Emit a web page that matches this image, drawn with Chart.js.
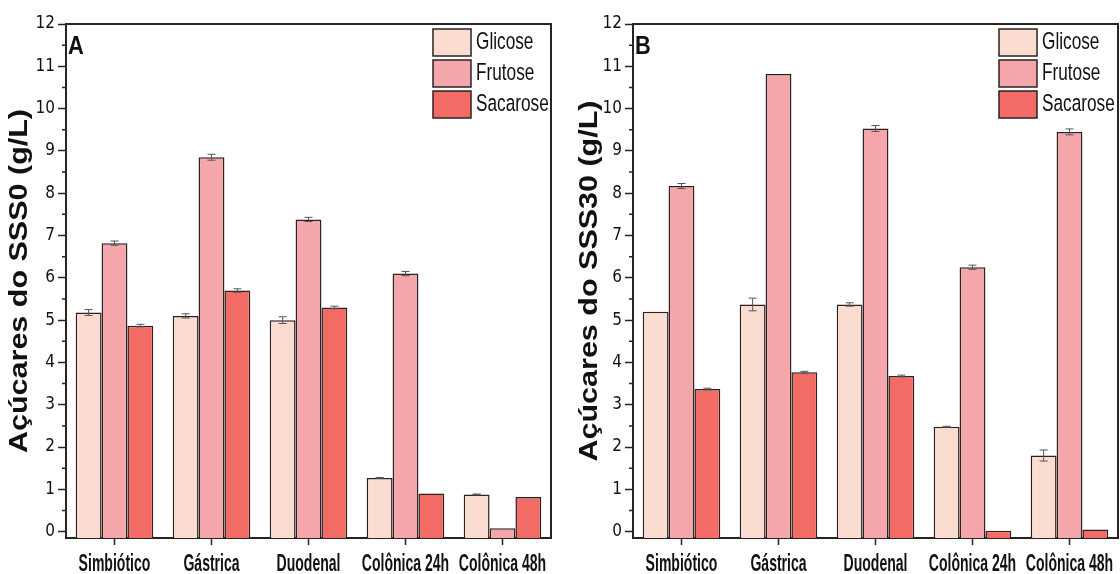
<!DOCTYPE html>
<html lang="pt-br">
<head>
<meta charset="UTF-8">
<title>Açúcares SSS0 / SSS30</title>
<script src="https://cdn.jsdelivr.net/npm/chart.js"></script>
<style>
    body { margin: 0; background: #fff; width: 1120px; height: 574px; overflow: hidden; }
    .painel { position: absolute; top: 0; width: 560px; height: 574px; }
    #painelA { left: 0; }
    #painelB { left: 560px; }
</style>
</head>
<body>
<div class="painel" id="painelA"><canvas id="chartA"></canvas></div>
<div class="painel" id="painelB"><canvas id="chartB"></canvas></div>

<script>
    const etapas = ['Simbiótico', 'Gástrica', 'Duodenal', 'Colônica 24h', 'Colônica 48h'];
    const acucares = ['Glicose', 'Frutose', 'Sacarose'];
    const cores = ['#fadcd1', '#f5a6ab', '#f26b65'];

    // SSS0 (painel A)
    const glicoseA = [5.18, 5.10, 5.00, 1.27, 0.88];
    const frutoseA = [6.82, 8.85, 7.38, 6.10, 0.08];
    const sacaroseA = [4.87, 5.70, 5.30, 0.90, 0.82];
    const erroGlicoseA = [0.07, 0.05, 0.08, 0.01, 0.01];
    const erroFrutoseA = [0.05, 0.07, 0.05, 0.05, 0.00];
    const erroSacaroseA = [0.03, 0.04, 0.03, 0.00, 0.00];

    // SSS30 (painel B)
    const glicoseB = [5.20, 5.37, 5.37, 2.48, 1.80];
    const frutoseB = [8.17, 10.82, 9.53, 6.25, 9.45];
    const sacaroseB = [3.37, 3.77, 3.68, 0.02, 0.05];
    const erroGlicoseB = [0.00, 0.15, 0.04, 0.01, 0.13];
    const erroFrutoseB = [0.06, 0.00, 0.07, 0.05, 0.07];
    const erroSacaroseB = [0.02, 0.02, 0.02, 0.00, 0.00];

    const yTicks = [0, 1, 2, 3, 4, 5, 6, 7, 8, 9, 10, 11, 12];
    const yMin = -0.15;
    const yMax = 12;

    const fonteEstreita = "'DejaVu Sans Condensed', 'Liberation Sans', Arial, sans-serif";
    const fonteArial = "'Liberation Sans', Arial, sans-serif";
    const corLinha = '#2b2222';

    // texto "estreito e alto" como no original (fonte condensada)
    function texto(ctx, str, x, y, sx, sy, align, baseline, ang) {
        ctx.save();
        ctx.translate(x, y);
        if (ang) ctx.rotate(ang);
        ctx.scale(sx, sy);
        ctx.textAlign = align;
        ctx.textBaseline = baseline;
        ctx.fillText(str, 0, 0);
        ctx.restore();
    }

    // barras de erro, moldura, ticks menores, rótulos, legenda e letra do painel
    const extrasPlugin = {
        id: 'extras',
        afterDatasetsDraw(chart, args, opts) {
            const ctx = chart.ctx;
            const x = chart.scales.x;
            const y = chart.scales.y;
            const area = chart.chartArea;
            ctx.save();
            ctx.strokeStyle = '#555';
            ctx.lineWidth = 1;
            chart.data.datasets.forEach((ds, i) => {
                const meta = chart.getDatasetMeta(i);
                meta.data.forEach((bar, j) => {
                    const e = ds.erros[j];
                    if (!e) return;
                    const top = y.getPixelForValue(ds.data[j] + e);
                    const bot = y.getPixelForValue(ds.data[j] - e);
                    ctx.beginPath();
                    ctx.moveTo(bar.x, top); ctx.lineTo(bar.x, bot);
                    ctx.moveTo(bar.x - 4, top); ctx.lineTo(bar.x + 4, top);
                    ctx.moveTo(bar.x - 4, bot); ctx.lineTo(bar.x + 4, bot);
                    ctx.stroke();
                });
            });

            // moldura superior e direita
            ctx.strokeStyle = corLinha;
            ctx.lineWidth = 2;
            ctx.beginPath();
            ctx.moveTo(area.left, area.top);
            ctx.lineTo(area.right, area.top);
            ctx.lineTo(area.right, area.bottom);
            ctx.stroke();

            // ticks menores
            ctx.lineWidth = 1.5;
            ctx.beginPath();
            for (let v = 0.5; v < yMax; v += 1) {
                const py = y.getPixelForValue(v);
                ctx.moveTo(area.left - 4, py);
                ctx.lineTo(area.left, py);
            }
            ctx.stroke();

            ctx.fillStyle = '#111';

            // rótulos das categorias
            ctx.font = 'bold 18px ' + fonteArial;
            etapas.forEach((nome, i) => {
                texto(ctx, nome, x.getPixelForTick(i), area.bottom + 15, 0.78, 1.3, 'center', 'top');
            });

            // título do eixo y
            ctx.font = 'bold 25px ' + fonteArial;
            texto(ctx, opts.tituloY, opts.tituloX, (area.top + area.bottom) / 2, 1.22, 1, 'center', 'middle', -Math.PI / 2);

            // legenda interna
            const lx = area.right - opts.legendaDireita;
            chart.data.datasets.forEach((ds, i) => {
                const by = area.top + 5 + i * 31;
                ctx.fillStyle = ds.backgroundColor;
                ctx.fillRect(lx, by, 38, 27);
                ctx.strokeStyle = corLinha;
                ctx.lineWidth = 1.5;
                ctx.strokeRect(lx, by, 38, 27);
                ctx.fillStyle = '#111';
                ctx.font = '21px ' + fonteArial;
                texto(ctx, ds.label, lx + 43, by + 14, 0.82, 1.1, 'left', 'middle');
            });

            // letra do painel
            ctx.font = 'bold 23px ' + fonteArial;
            texto(ctx, opts.letra, area.left + 2, area.top + 9, 0.95, 1.15, 'left', 'top');
            ctx.restore();
        }
    };

    function criarGrafico(id, serie, erros, tituloY, letra, larguraY, tituloX, padDireita, legendaDireita) {
        const ctx = document.getElementById(id).getContext('2d');
        new Chart(ctx, {
            type: 'bar',
            data: {
                labels: etapas,
                datasets: acucares.map((nome, i) => ({
                    label: nome,
                    data: serie[i],
                    erros: erros[i],
                    backgroundColor: cores[i],
                    borderColor: corLinha,
                    borderWidth: 1.5,
                    base: yMin,
                    barPercentage: 1,
                    categoryPercentage: 0.8
                }))
            },
            options: {
                responsive: true,
                maintainAspectRatio: false,
                animation: false,
                layout: { padding: { top: 24, right: padDireita, left: 0, bottom: 0 } },
                plugins: {
                    legend: { display: false },
                    tooltip: { enabled: false },
                    extras: { letra: letra, legendaDireita: legendaDireita, tituloY: tituloY, tituloX: tituloX }
                },
                scales: {
                    x: {
                        grid: { offset: false, drawOnChartArea: false, tickLength: 7, tickColor: corLinha, tickWidth: 1.5 },
                        border: { color: corLinha, width: 2 },
                        ticks: { display: false },
                        afterFit(scale) { scale.height = 36; }
                    },
                    y: {
                        min: yMin,
                        max: yMax,
                        afterBuildTicks(scale) { scale.ticks = yTicks.map(v => ({ value: v })); },
                        grid: { drawOnChartArea: false, tickLength: 8, tickColor: corLinha, tickWidth: 1.5 },
                        border: { color: corLinha, width: 2 },
                        ticks: {
                            color: '#111',
                            padding: 3,
                            font: { family: fonteEstreita, size: 17 }
                        },
                        afterFit(scale) { scale.width = larguraY; }
                    }
                }
            },
            plugins: [extrasPlugin]
        });
    }

    criarGrafico('chartA',
        [glicoseA, frutoseA, sacaroseA],
        [erroGlicoseA, erroFrutoseA, erroSacaroseA],
        'Açúcares do SSS0 (g/L)', 'A', 66, 20, 9, 118);

    criarGrafico('chartB',
        [glicoseB, frutoseB, sacaroseB],
        [erroGlicoseB, erroFrutoseB, erroSacaroseB],
        'Açúcares do SSS30 (g/L)', 'B', 73, 30, 2, 119);
</script>
</body>
</html>
